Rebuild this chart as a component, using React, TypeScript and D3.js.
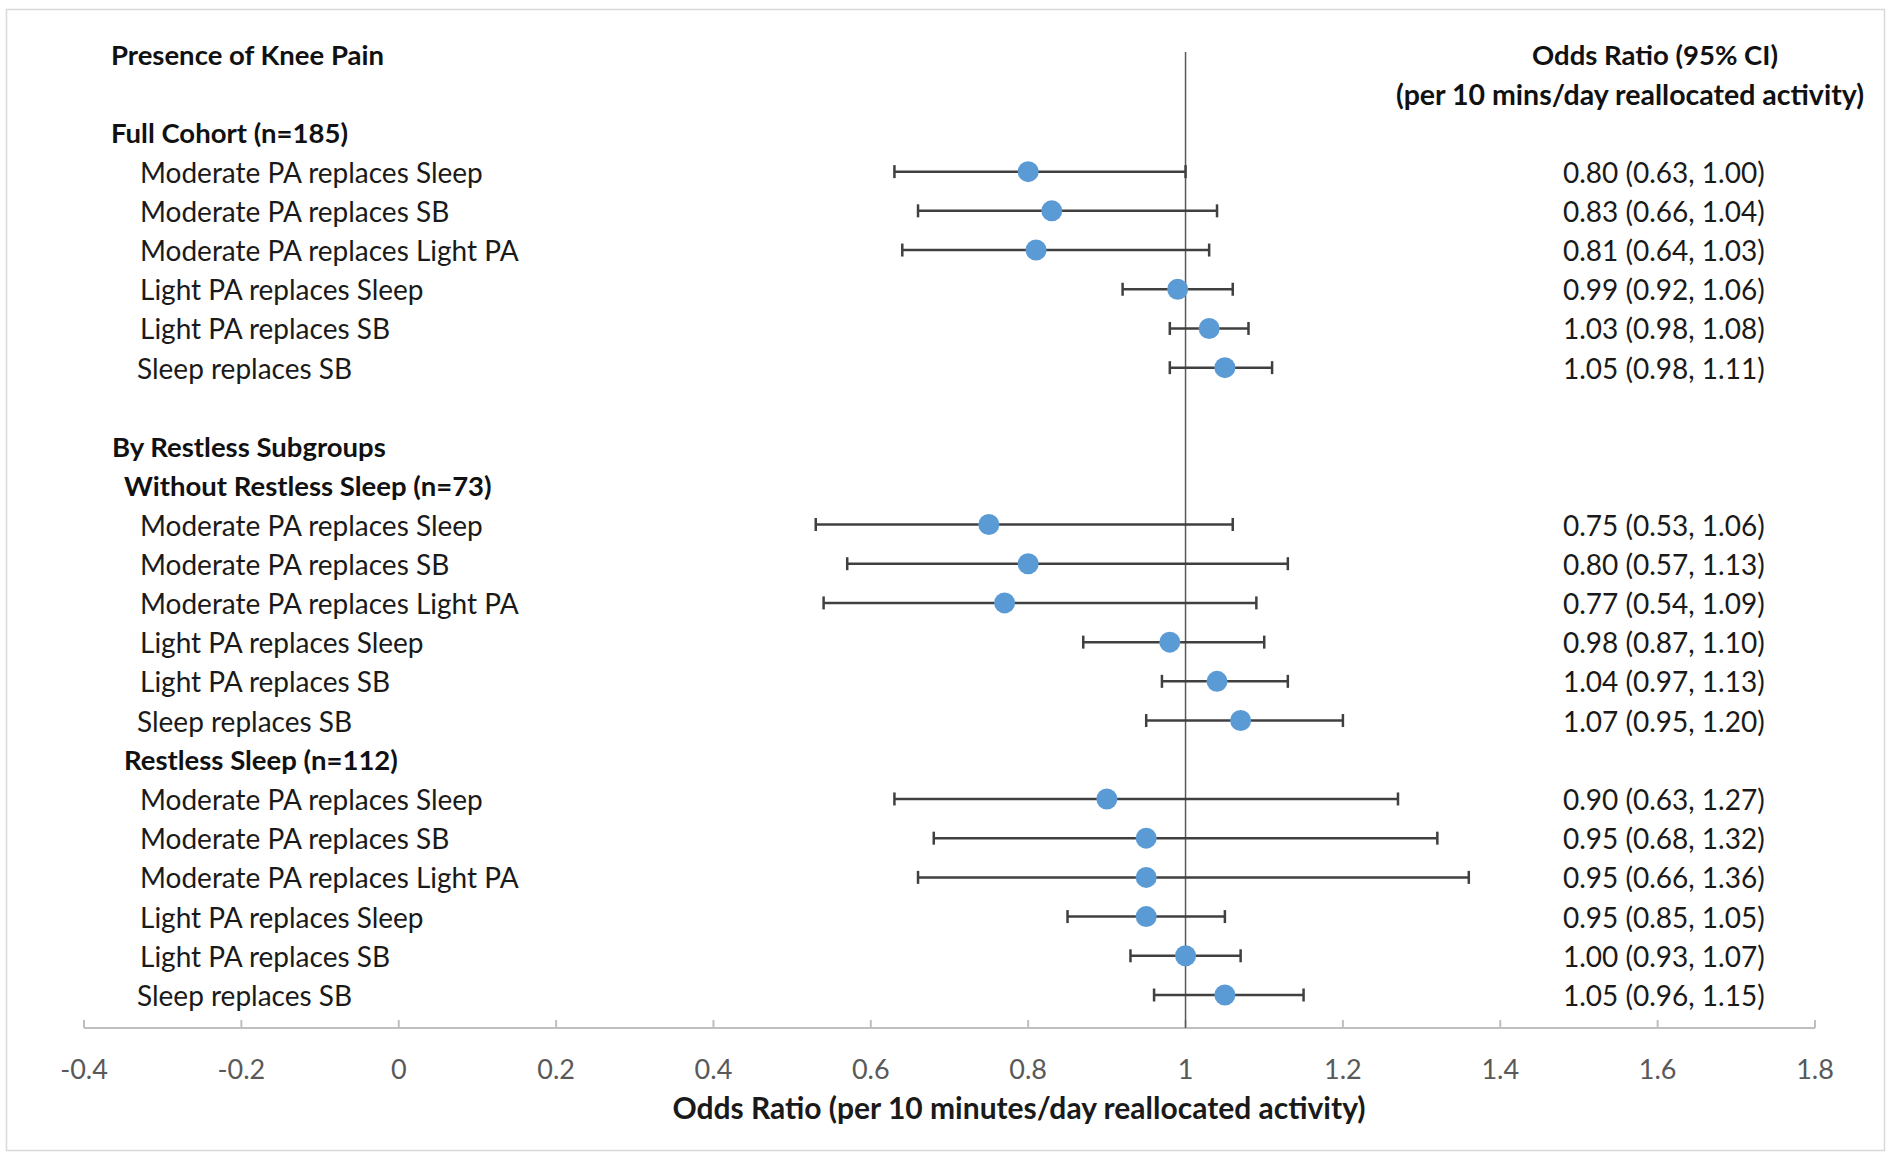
import React, { useEffect, useRef } from 'react'
import * as d3 from 'd3'

// comparisons, same order in every group
const comparisons = [
  'Moderate PA replaces Sleep',
  'Moderate PA replaces SB',
  'Moderate PA replaces Light PA',
  'Light PA replaces Sleep',
  'Light PA replaces SB',
  'Sleep replaces SB',
]

const fullCohortOR = [0.80, 0.83, 0.81, 0.99, 1.03, 1.05]
const fullCohortLow = [0.63, 0.66, 0.64, 0.92, 0.98, 0.98]
const fullCohortHigh = [1.00, 1.04, 1.03, 1.06, 1.08, 1.11]

const withoutRestlessOR = [0.75, 0.80, 0.77, 0.98, 1.04, 1.07]
const withoutRestlessLow = [0.53, 0.57, 0.54, 0.87, 0.97, 0.95]
const withoutRestlessHigh = [1.06, 1.13, 1.09, 1.10, 1.13, 1.20]

const restlessOR = [0.90, 0.95, 0.95, 0.95, 1.00, 1.05]
const restlessLow = [0.63, 0.68, 0.66, 0.85, 0.93, 0.96]
const restlessHigh = [1.27, 1.32, 1.36, 1.05, 1.07, 1.15]

const xTicks = [-0.4, -0.2, 0, 0.2, 0.4, 0.6, 0.8, 1, 1.2, 1.4, 1.6, 1.8]

const W = 1891
const H = 1160
const FONT = 'Lato, "Open Sans", sans-serif'

type Row = { slot: number; label: string; or: number; lo: number; hi: number; indent: number }

function buildRows(startSlot: number, ors: number[], los: number[], his: number[]): Row[] {
  return comparisons.map((label, k) => ({
    slot: startSlot + k,
    label,
    or: ors[k],
    lo: los[k],
    hi: his[k],
    indent: label === 'Sleep replaces SB' ? -3 : 0,
  }))
}

function App() {
  const ref = useRef<SVGSVGElement>(null)

  useEffect(() => {
    const svg = d3.select(ref.current)
    svg.selectAll('*').remove()

    const x = d3.scaleLinear().domain([-0.4, 1.8]).range([84, 1815])
    const y = d3.scaleLinear().domain([0, 24]).range([54, 995])
    const axisY = 1028

    // outer frame
    svg.append('rect')
      .attr('x', 6.5).attr('y', 9.5)
      .attr('width', 1878).attr('height', 1141)
      .attr('fill', '#fff')
      .attr('stroke', '#d9d9d9')
      .attr('stroke-width', 1.5)

    const rows = [
      ...buildRows(3, fullCohortOR, fullCohortLow, fullCohortHigh),
      ...buildRows(12, withoutRestlessOR, withoutRestlessLow, withoutRestlessHigh),
      ...buildRows(19, restlessOR, restlessLow, restlessHigh),
    ]

    const headers = [
      { slot: 0, text: 'Presence of Knee Pain', x: 111 },
      { slot: 2, text: 'Full Cohort  (n=185)', x: 111 },
      { slot: 10, text: 'By Restless Subgroups', x: 112 },
      { slot: 11, text: 'Without  Restless Sleep (n=73)', x: 124 },
      { slot: 18, text: 'Restless Sleep (n=112)', x: 124 },
    ]

    // x axis
    const axis = svg.append('g').attr('transform', `translate(0,${axisY})`)
    axis.append('line')
      .attr('x1', x(-0.4)).attr('x2', x(1.8))
      .attr('stroke', '#bfbfbf').attr('stroke-width', 2)
    axis.selectAll('line.tick')
      .data(xTicks)
      .enter()
      .append('line')
      .attr('class', 'tick')
      .attr('x1', (d) => x(d)).attr('x2', (d) => x(d))
      .attr('y1', 0).attr('y2', -8)
      .attr('stroke', '#bfbfbf').attr('stroke-width', 2)
    axis.selectAll('text.tick')
      .data(xTicks)
      .enter()
      .append('text')
      .attr('class', 'tick')
      .attr('x', (d) => x(d))
      .attr('y', 40)
      .attr('dominant-baseline', 'central')
      .attr('text-anchor', 'middle')
      .attr('font-family', FONT)
      .attr('font-size', 27)
      .attr('fill', '#595959')
      .text((d) => String(d))

    svg.append('text')
      .attr('x', 1019).attr('y', 1107)
      .attr('dominant-baseline', 'central')
      .attr('text-anchor', 'middle')
      .attr('font-family', FONT)
      .attr('font-size', 30)
      .attr('font-weight', 'bold')
      .attr('fill', '#1a1a1a')
      .text('Odds Ratio (per 10 minutes/day reallocated activity)')

    // reference line at 1
    svg.append('line')
      .attr('x1', x(1)).attr('x2', x(1))
      .attr('y1', 52).attr('y2', axisY)
      .attr('stroke', '#595959').attr('stroke-width', 1.5)

    // headers
    svg.selectAll('text.header')
      .data(headers)
      .enter()
      .append('text')
      .attr('class', 'header')
      .attr('x', (d) => d.x)
      .attr('y', (d) => y(d.slot))
      .attr('dominant-baseline', 'central')
      .attr('font-family', FONT)
      .attr('font-size', 27.5)
      .attr('font-weight', 'bold')
      .attr('fill', '#111')
      .text((d) => d.text)

    svg.append('text')
      .attr('x', 1655).attr('y', y(0))
      .attr('dominant-baseline', 'central')
      .attr('text-anchor', 'middle')
      .attr('font-family', FONT)
      .attr('font-size', 27.5)
      .attr('font-weight', 'bold')
      .attr('fill', '#111')
      .text('Odds Ratio (95% CI)')
    svg.append('text')
      .attr('x', 1630).attr('y', 94)
      .attr('dominant-baseline', 'central')
      .attr('text-anchor', 'middle')
      .attr('font-family', FONT)
      .attr('font-size', 28.5)
      .attr('font-weight', 'bold')
      .attr('fill', '#111')
      .text('(per 10 mins/day reallocated activity)')

    const g = svg.selectAll('g.row')
      .data(rows)
      .enter()
      .append('g')
      .attr('class', 'row')
      .attr('transform', (d) => `translate(0,${y(d.slot)})`)

    g.append('text')
      .attr('x', (d) => 140 + d.indent)
      .attr('dominant-baseline', 'central')
      .attr('font-family', FONT)
      .attr('font-size', 28)
      .attr('fill', '#1a1a1a')
      .text((d) => d.label)

    g.append('text')
      .attr('x', 1563)
      .attr('dominant-baseline', 'central')
      .attr('font-family', FONT)
      .attr('font-size', 28)
      .attr('fill', '#1a1a1a')
      .text((d) => `${d.or.toFixed(2)} (${d.lo.toFixed(2)}, ${d.hi.toFixed(2)})`)

    // error bars
    g.append('line')
      .attr('x1', (d) => x(d.lo)).attr('x2', (d) => x(d.hi))
      .attr('stroke', '#404040').attr('stroke-width', 2.5)
    g.append('line')
      .attr('x1', (d) => x(d.lo)).attr('x2', (d) => x(d.lo))
      .attr('y1', -6.5).attr('y2', 6.5)
      .attr('stroke', '#404040').attr('stroke-width', 2.5)
    g.append('line')
      .attr('x1', (d) => x(d.hi)).attr('x2', (d) => x(d.hi))
      .attr('y1', -6.5).attr('y2', 6.5)
      .attr('stroke', '#404040').attr('stroke-width', 2.5)

    g.append('circle')
      .attr('cx', (d) => x(d.or))
      .attr('r', 10.5)
      .attr('fill', '#5b9bd5')
  }, [])

  return (
    <svg
      ref={ref}
      width={W}
      height={H}
      style={{ position: 'absolute', left: 0, top: 0, display: 'block', background: '#fff' }}
    />
  )
}

export default App
